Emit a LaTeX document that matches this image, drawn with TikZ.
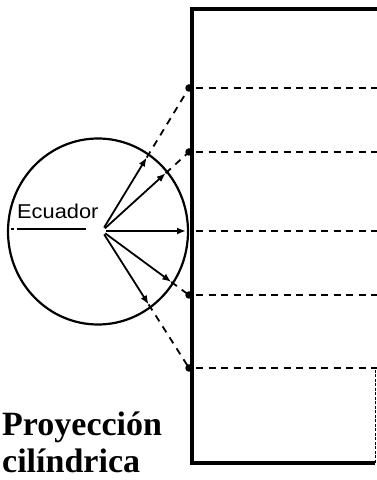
\documentclass[tikz,border=0pt]{standalone}
\usepackage{fontspec}
\setmainfont{Liberation Serif}
\newfontfamily\labfont{Liberation Sans}
\usetikzlibrary{calc,arrows.meta}
\begin{document}
\begin{tikzpicture}[x=1pt,y=1pt,
  frame/.style={line width=3.3pt},
  globe/.style={line width=2.2pt},
  ray/.style={line width=1.8pt,-{Latex[length=9pt,width=7pt]}},
  proj/.style={line width=1.8pt,dash pattern=on 7pt off 6pt},
  parallel/.style={line width=2.2pt,dash pattern=on 7pt off 5.5pt},
  blob/.style={circle,fill=black,inner sep=0pt,minimum size=7.5pt},
  title/.style={anchor=base west,inner sep=0pt,font=\fontsize{34}{34}\selectfont\bfseries}]
\useasboundingbox (0,0) rectangle (377,480);
% cylinder (rectangle)
\coordinate (TL) at (192,471);
\coordinate (BL) at (192,17);
\coordinate (TR) at (377,471);
\coordinate (BR) at (375,17);
\coordinate (RM) at (375,110);
\draw[frame] (TR) -- (TL) -- (BL) -- (BR);
\draw[line width=0.8pt,dash pattern=on 3pt off 1.5pt] (BR) -- (RM);
% globe
\coordinate (C) at (98,248.5);
\draw[globe] (C) ellipse [x radius=90,y radius=93];
\coordinate (O) at (102,249);
% projection points
\coordinate (P1) at (189,392);
\coordinate (P2) at (189,328);
\coordinate (P3) at (189,249);
\coordinate (P4) at (189,185);
\coordinate (P5) at (189,112);
% parallels
\foreach \p/\yy in {P1/392,P2/328,P3/249,P4/185,P5/112}{
  \coordinate (E\p) at (377,\yy);
  \draw[parallel] ($(\p)+(7,0)$) -- (E\p);
}
% rays
\foreach \p/\len in {P1/86,P2/86,P4/86,P5/87}{
  \coordinate (T\p) at ($(O)!\len pt!(\p)$);
  \draw[ray] ($(O)!4pt!(\p)$) -- (T\p);
  \draw[proj] (T\p) -- (\p);
}
\draw[ray] ($(O)!4pt!(P3)$) -- ($(O)!84pt!(P3)$);
\foreach \p in {P1,P2,P4,P5}{
  \node[blob] (D\p) at (\p) {};
}
% equator left part
\coordinate (Q1) at (11,251);
\coordinate (Q2) at (86,251);
\draw[line width=1.3pt,dash pattern=on 2.5pt off 3pt on 80pt] (Q1) -- (Q2);
% labels
\node[anchor=base west,inner sep=0pt,font=\labfont\fontsize{20}{20}\selectfont] (ec) at (17,261) {\scalebox{1.09}[1]{Ecuador}};
\node[title] (t1) at (2,44) {Proyección};
\node[title] (t2) at (2,8) {cilíndrica};
\end{tikzpicture}
\end{document}
